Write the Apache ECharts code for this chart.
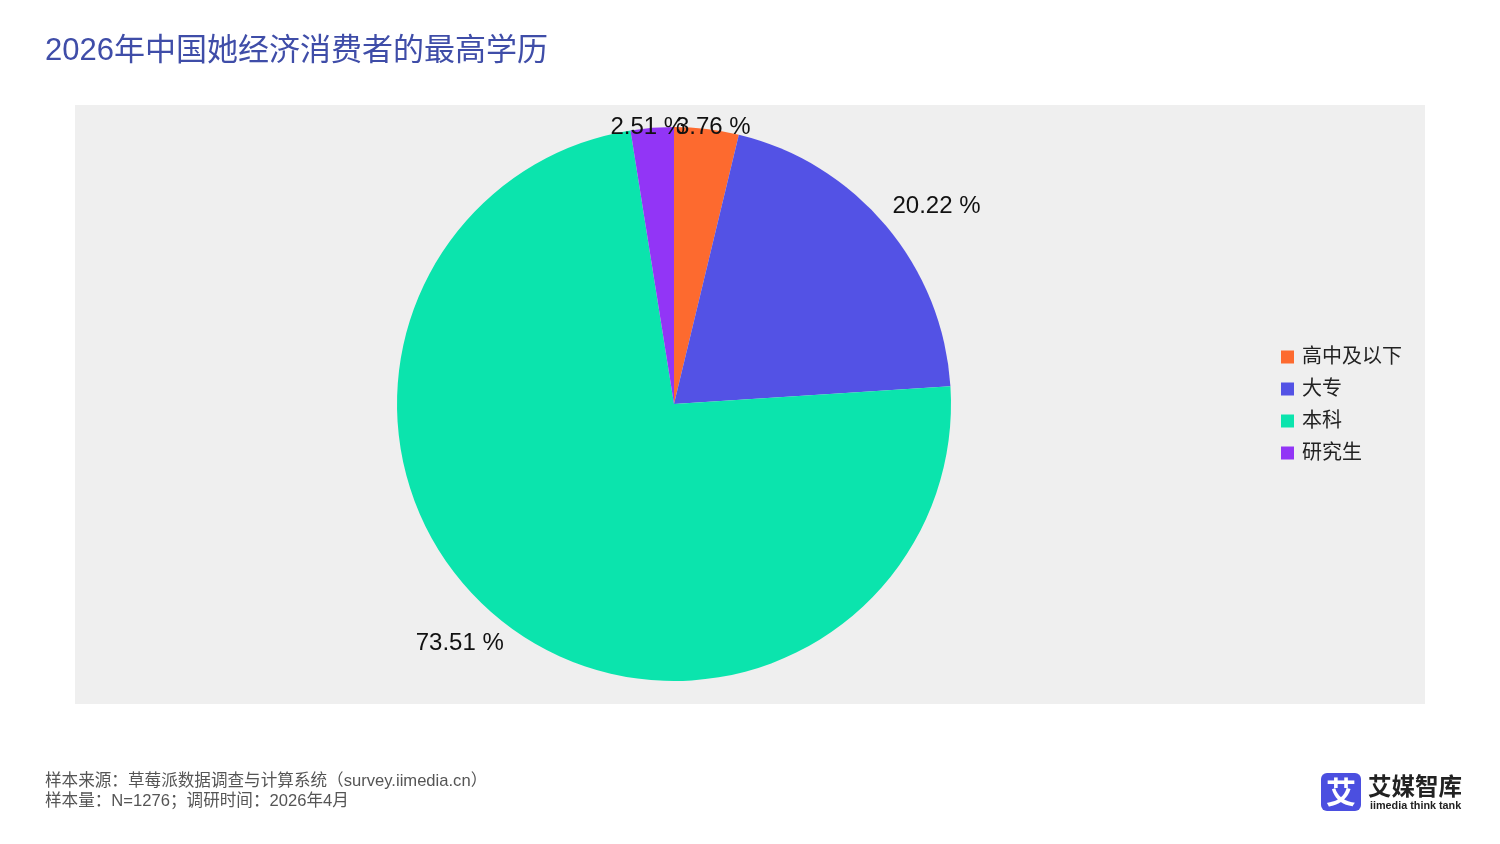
<!DOCTYPE html>
<html><head><meta charset="utf-8">
<script src="https://cdn.jsdelivr.net/npm/echarts@6/dist/echarts.min.js"></script>
<style>html,body{margin:0;padding:0;background:#fff}#c{width:1500px;height:844px}</style>
</head><body><div id="c"></div>
<script>
const titleText = '2026年中国她经济消费者的最高学历';
const categories = ['高中及以下', '大专', '本科', '研究生'];
const values = [3.76, 20.22, 73.51, 2.51];
const colors = ['#FD6A2F', '#5352E5', '#0BE4AD', '#9235F6'];
const footerLines = ['样本来源：草莓派数据调查与计算系统（survey.iimedia.cn）', '样本量：N=1276；调研时间：2026年4月'];

const CX = 674, CY = 404, R = 277;
const PANEL = { x: 75, y: 105, w: 1350, h: 599 };
const total = values.reduce((a, b) => a + b, 0);

const chart = echarts.init(document.getElementById('c'));
const font = '"Liberation Sans", Arial, "Noto Sans CJK SC", sans-serif';
chart.setOption({
  backgroundColor: '#ffffff',
  animation: false,
  title: {
    text: titleText, left: 40, top: 31,
    textStyle: { color: '#3F4DA8', fontSize: 31, fontWeight: 'normal', fontFamily: font }
  },
  legend: {
    orient: 'vertical', left: 1281, top: 347, padding: 0,
    itemWidth: 13, itemHeight: 13, itemGap: 12, icon: 'rect',
    textStyle: { fontSize: 20, color: '#222', fontFamily: font, padding: [0, 0, 0, 3] },
    data: categories
  },
  graphic: [
    { type: 'rect', z: -10, shape: { x: PANEL.x, y: PANEL.y, width: PANEL.w, height: PANEL.h }, style: { fill: '#EFEFEF' } },
    { type: 'text', x: 45, y: 781, style: { text: footerLines[0], fill: '#555', fontSize: 16.6, verticalAlign: 'middle', fontFamily: font } },
    { type: 'text', x: 45, y: 801, style: { text: footerLines[1], fill: '#555', fontSize: 16.6, verticalAlign: 'middle', fontFamily: font } },
    { type: 'rect', shape: { x: 1321, y: 773, width: 40, height: 38, r: 6 }, style: { fill: '#4B4FE0' } },
    { type: 'text', x: 1341, y: 792, style: { text: '艾', fill: '#fff', fontSize: 30, fontWeight: 'bold', align: 'center', verticalAlign: 'middle', fontFamily: '"Noto Sans CJK SC", sans-serif' } },
    { type: 'text', x: 1368, y: 774, style: { text: '艾媒智库', fill: '#222', fontSize: 23.5, fontWeight: 'bold', fontFamily: '"Noto Sans CJK SC", sans-serif' } },
    { type: 'text', x: 1370, y: 801, style: { text: 'iimedia think tank', fill: '#222', fontSize: 10.8, fontWeight: 'bold', fontFamily: '"Liberation Sans", Arial, sans-serif' } }
  ],
  series: [{
    type: 'pie',
    center: [CX, CY], radius: R,
    startAngle: 90, clockwise: true,
    avoidLabelOverlap: false,
    color: colors,
    label: {
      show: true, position: 'outside', fontSize: 24, color: '#111', fontFamily: font,
      formatter: p => p.value.toFixed(2) + ' %'
    },
    labelLine: { show: false, length: 4, length2: 0 },
    labelLayout: function (p) {
      const i = p.dataIndex;
      const cum = values.slice(0, i).reduce((a, b) => a + b, 0) + values[i] / 2;
      const th = cum / total * 2 * Math.PI;
      const s = Math.sin(th), c = Math.cos(th);
      const w = p.labelRect.width, h = p.labelRect.height;
      let x = CX + R * s + 1.5 * (w / 2) * s;
      let y = CY - R * c - 2.5 * (h / 2) * c;
      y = Math.max(y, PANEL.y + h / 2 + 10);
      return { x: x, y: y, align: 'center', verticalAlign: 'middle' };
    },
    emphasis: { disabled: true },
    data: categories.map((c, i) => ({ name: c, value: values[i] }))
  }]
});
</script></body></html>
